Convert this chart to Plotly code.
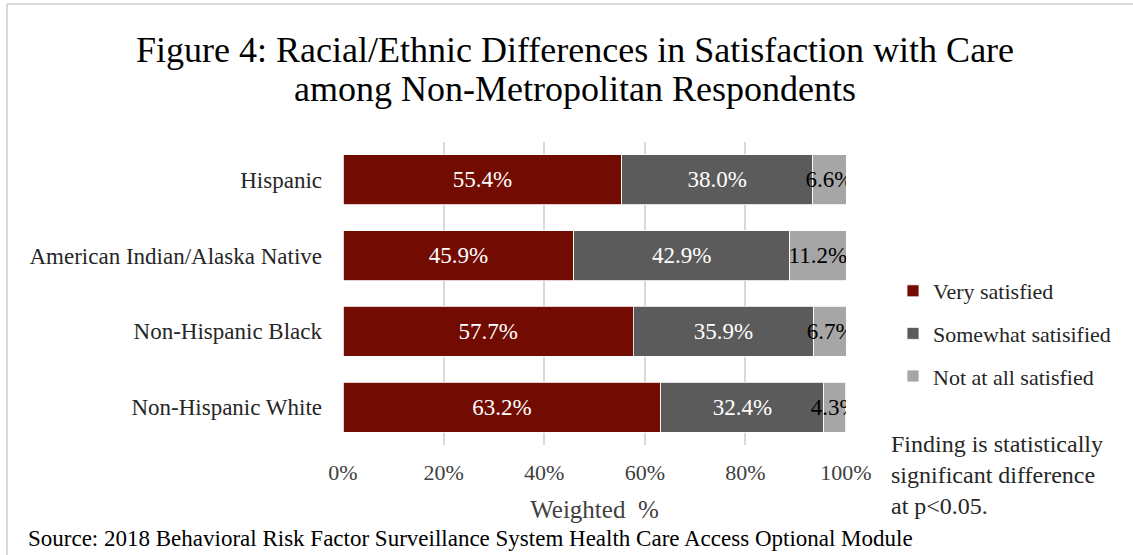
import plotly.graph_objects as go

groups = ["Hispanic", "American Indian/Alaska Native", "Non-Hispanic Black", "Non-Hispanic White"]
very_satisfied = [55.4, 45.9, 57.7, 63.2]
somewhat_satisfied = [38.0, 42.9, 35.9, 32.4]
not_satisfied = [6.6, 11.2, 6.7, 4.3]
series_names = ["Very satisfied", "Somewhat satisified", "Not at all satisfied"]
series_colors = ["#720C02", "#5B5B5B", "#A6A6A6"]
text_colors = ["white", "white", "black"]
x_ticks = [0, 20, 40, 60, 80, 100]
x_tick_labels = ["0%", "20%", "40%", "60%", "80%", "100%"]
title_lines = ["Figure 4: Racial/Ethnic Differences in Satisfaction with Care",
               "among Non-Metropolitan Respondents"]

FONT = "Liberation Serif"
W, H = 1133, 555
L, R, T, B = 343, 846, 142, 445


def px_x(px):
    return (px - L) / (R - L)


def px_y(py):
    return (B - py) / (B - T)


fig = go.Figure()
for name, vals, col, tc in zip(series_names, [very_satisfied, somewhat_satisfied, not_satisfied],
                               series_colors, text_colors):
    fig.add_trace(go.Bar(
        y=groups, x=vals, orientation="h", name=name,
        marker=dict(color=col, line=dict(color="white", width=0.8)),
        width=0.66,
        text=[f"{v:.1f}%" for v in vals],
        textposition="inside", insidetextanchor="middle", textangle=0,
        textfont=dict(family=FONT, size=23, color=tc),
        legendgroup=name,
        hoverinfo="x+y",
    ))

fig.update_layout(
    width=W, height=H,
    barmode="stack",
    uniformtext=dict(minsize=23, mode="show"),
    plot_bgcolor="white", paper_bgcolor="white",
    margin=dict(l=L, r=W - R, t=T, b=H - B, pad=0),
    font=dict(family=FONT, color="#404040"),
    xaxis=dict(
        range=[0, 100], tickvals=x_ticks, ticktext=x_tick_labels,
        showgrid=True, gridcolor="#D9D9D9", gridwidth=1.5,
        zeroline=False, showline=False,
        ticks="", ticklabelstandoff=12,
        tickfont=dict(family=FONT, size=22, color="#404040"),
        title=dict(text="Weighted  %", font=dict(family=FONT, size=25, color="#404040"), standoff=16),
        fixedrange=True,
    ),
    yaxis=dict(
        categoryorder="array", categoryarray=list(reversed(groups)),
        range=[-0.5, 3.5],
        showgrid=False, zeroline=False, showline=False, ticks="",
        ticklabelstandoff=20,
        tickfont=dict(family=FONT, size=23, color="#262626"),
        fixedrange=True,
    ),
    legend=dict(
        x=px_x(893), xanchor="left",
        y=px_y(270), yanchor="top",
        traceorder="grouped", tracegroupgap=11,
        font=dict(family=FONT, size=22, color="#262626"),
        itemwidth=30, bgcolor="rgba(0,0,0,0)",
    ),
    showlegend=True,
)

# title lines
for line, yc in zip(title_lines, [50, 89]):
    fig.add_annotation(
        text=line, xref="paper", yref="paper",
        x=px_x(575), xanchor="center", y=px_y(yc), yanchor="middle",
        showarrow=False, font=dict(family=FONT, size=36, color="#000000"),
    )

# chart border (light gray), top and left edges
fig.add_shape(type="line", xref="paper", yref="paper",
              x0=px_x(7), x1=px_x(W + 5), y0=px_y(4), y1=px_y(4),
              line=dict(color="#D9D9D9", width=2))
fig.add_shape(type="line", xref="paper", yref="paper",
              x0=px_x(7), x1=px_x(7), y0=px_y(4), y1=px_y(H + 5),
              line=dict(color="#D9D9D9", width=2))

fig.add_annotation(
    text="Finding is statistically<br>significant difference<br>at p&lt;0.05.",
    xref="paper", yref="paper",
    x=px_x(889), xanchor="left",
    y=px_y(429), yanchor="top",
    align="left", showarrow=False,
    font=dict(family=FONT, size=24, color="#262626"),
)
fig.add_annotation(
    text="Source: 2018 Behavioral Risk Factor Surveillance System Health Care Access Optional Module",
    xref="paper", yref="paper",
    x=px_x(26), xanchor="left",
    y=px_y(538), yanchor="middle",
    showarrow=False,
    font=dict(family=FONT, size=23, color="#000000"),
)

fig.write_html("out.html")
